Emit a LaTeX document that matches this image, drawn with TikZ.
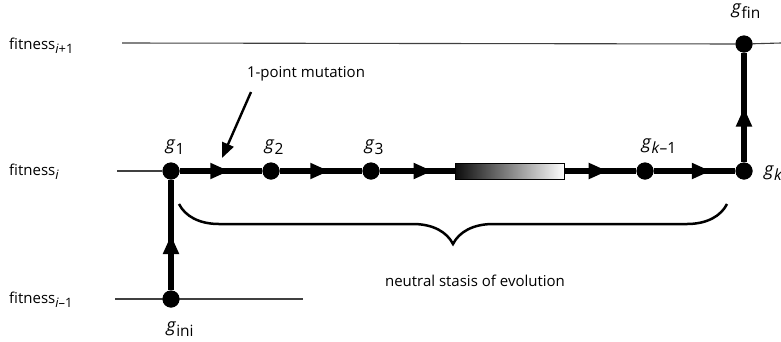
\documentclass[tikz,border=0pt]{standalone}
\usepackage{fontspec}
\setmainfont{Open Sans}
\usetikzlibrary{arrows.meta,decorations.markings,decorations.pathreplacing}
\newcommand{\mysub}[1]{\raisebox{-0.5ex}{\scalebox{0.86}{#1}}}
\begin{document}
\begin{tikzpicture}[x=1pt,y=-1pt,
  levelline/.style={line width=1.1pt, draw=black!75},
  thickline/.style={line width=5.6pt},
  dot/.style={circle, fill=black, inner sep=0pt, minimum size=17pt},
  midarrow/.style={postaction={decorate}, decoration={markings, mark=at position #1 with {\arrow{Triangle[length=19pt,width=15pt]}}}},
  lbl/.style={font=\fontsize{15}{17}\selectfont, inner sep=0pt},
  glbl/.style={font=\fontsize{18}{20}\selectfont, inner sep=0pt}
]
\useasboundingbox (0,0) rectangle (781,341);

% fitness levels
\node[lbl, anchor=west] (fip1) at (9,46) {fitness\mysub{\textit{i}+1}};
\node[lbl, anchor=west] (fi) at (9,172) {fitness\mysub{\textit{i}}};
\node[lbl, anchor=west] (fim1) at (9,300) {fitness\mysub{\textit{i}–1}};

\coordinate (Lip1) at (122,43);
\coordinate (Rip1) at (781,43);
\coordinate (Li) at (117,171);
\coordinate (Lim1) at (115,299);
\coordinate (Rim1) at (303,299);

% genotype nodes
\node[dot] (gini) at (171,299) {};
\node[dot] (g1) at (171,171) {};
\node[dot] (g2) at (271,171) {};
\node[dot] (g3) at (371,171) {};
\node[draw, line width=0.6pt, inner sep=0pt, minimum width=109pt, minimum height=16pt,
      left color=black!95, right color=white] (box) at (510,171) {};
\node[dot] (gkm1) at (645,171) {};
\node[dot] (gk) at (744,171) {};
\node[dot] (gfin) at (744,44) {};

\draw[levelline] (Lip1) -- (gfin) -- (Rip1);
\draw[levelline] (Li) -- (g1);
\draw[levelline] (Lim1) -- (Rim1);

% path
\draw[thickline, midarrow=0.5] (gini) -- (g1);
\draw[thickline, midarrow=0.6] (g1) -- (g2);
\draw[thickline, midarrow=0.6] (g2) -- (g3);
\draw[thickline, midarrow=0.7] (g3) -- (box.west);
\draw[thickline, midarrow=0.6] (box.east) -- (gkm1);
\draw[thickline, midarrow=0.7] (gkm1) -- (gk);
\draw[thickline, midarrow=0.5] (gk) -- (gfin);

% redraw dots on top
\foreach \n in {gini,g1,g2,g3,gkm1,gk,gfin} \fill (\n) circle (8.5pt);

% genotype labels
\node[glbl] (lg1) at (175,147) {\textit{g}\mysub{1}};
\node[glbl] (lg2) at (274,147) {\textit{g}\mysub{2}};
\node[glbl] (lg3) at (374,147) {\textit{g}\mysub{3}};
\node[glbl] (lgkm1) at (659,146) {\textit{g}\mysub{\textit{k}–1}};
\node[glbl, anchor=west] (lgk) at (764,173) {\textit{g}\mysub{\textit{k}}};
\node[glbl] (lgfin) at (746,11) {\textit{g}\mysub{fin}};
\node[glbl] (lgini) at (180,329) {\textit{g}\mysub{ini}};

% mutation
\node[lbl] (mut) at (306,74) {1-point mutation};
\coordinate (mutS) at (251,92);
\coordinate (mutE) at (222,158);
\draw[line width=2.4pt, -{Triangle[length=15pt,width=12pt]}] (mutS) -- (mutE);

% brace
\coordinate (bL) at (179,204);
\coordinate (bR) at (727,204);
\draw[line width=2.5pt, decorate, decoration={brace, mirror, amplitude=40pt}] (bL) -- (bR);
\node[lbl] (neutral) at (475,281) {neutral stasis of evolution};
\end{tikzpicture}
\end{document}
